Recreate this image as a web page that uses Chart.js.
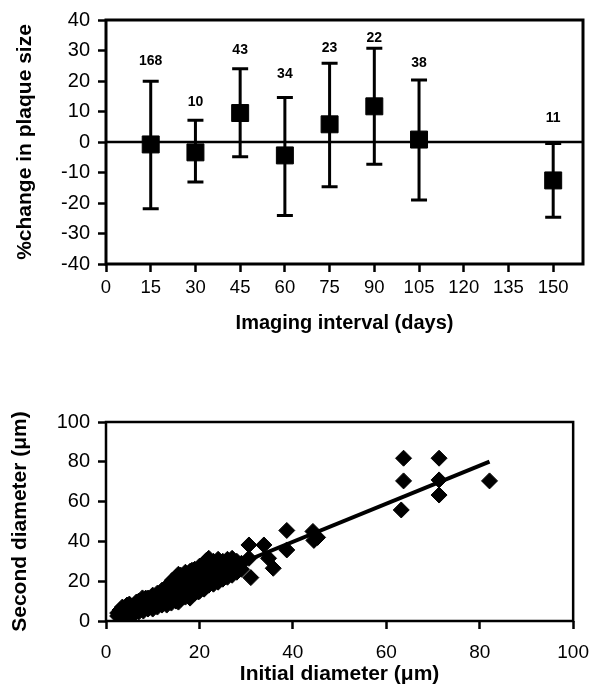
<!DOCTYPE html>
<html>
<head>
<meta charset="utf-8">
<script src="https://cdn.jsdelivr.net/npm/chart.js@4.4.0/dist/chart.umd.min.js"></script>
<style>
  html, body { margin: 0; padding: 0; background: #fff; }
  canvas { display: block; }
</style>
</head>
<body>
<canvas id="intervalChart" width="601" height="345"></canvas>
<canvas id="diameterChart" width="601" height="353"></canvas>
<script>
// top panel: % change in plaque size by imaging interval
const days = [15, 30, 45, 60, 75, 90, 105, 150];
const meanChange = [-0.8, -3.4, 9.5, -4.4, 5.8, 11.7, 0.8, -12.6];
const upperLimit = [19.9, 7.1, 24.0, 14.6, 25.8, 30.7, 20.3, -0.5];
const lowerLimit = [-21.9, -13.1, -4.8, -24.1, -14.7, -7.3, -19.0, -24.7];
const counts = ['168', '10', '43', '34', '23', '22', '38', '11'];
const countLabelY = [26.4, 13.0, 30.0, 22.2, 30.7, 33.9, 25.9, 7.7];

// bottom panel: initial vs second diameter (µm)
const initialDiameter = [
  2.5, 2.5, 3, 3, 3.5, 3.5, 3.5, 4, 4, 4.5, 4.5, 5, 5, 5, 5.5, 5.5,
  6, 6, 6, 6.5, 6.5, 7, 7, 7, 7.5, 7.5, 8, 8, 8, 8.5, 8.5, 8.5,
  9, 9, 9, 9.5, 9.5, 10, 10, 10, 10, 10.5, 10.5, 11, 11, 11, 11, 11.5, 11.5, 11.5,
  12, 12, 12, 12, 12.5, 12.5, 12.5, 13, 13, 13, 13, 13.5, 13.5, 13.5, 13.5,
  14, 14, 14, 14, 14.5, 14.5, 14.5, 14.5, 15, 15, 15, 15, 15, 15.5, 15.5, 15.5, 15.5,
  16, 16, 16, 16, 16, 16.5, 16.5, 16.5, 16.5, 17, 17, 17, 17, 17, 17.5, 17.5, 17.5, 17.5,
  18, 18, 18, 18, 18, 18.5, 18.5, 18.5, 18.5, 19, 19, 19, 19, 19, 19.5, 19.5, 19.5, 19.5,
  20, 20, 20, 20, 20, 20.5, 20.5, 20.5, 20.5, 21, 21, 21, 21, 21, 21.5, 21.5, 21.5, 21.5,
  22, 22, 22, 22, 22, 23, 23, 23, 23, 23, 24, 24, 24, 24, 24, 25, 25, 25, 25,
  26, 26, 26, 26, 27, 27, 27, 27, 28, 28, 28, 29, 29,
  7.8, 11, 14.2, 18.4, 13, 15.5, 18, 19.8,
  30.6, 33.8, 30.6, 34.8, 35.8, 31, 38.7, 38.7, 44.3, 45.3, 44.5,
  63.7, 71.3, 63.7, 71.3, 71.3, 63.2, 82.1
];
const secondDiameter = [
  2.5, 4, 3, 5.5, 2, 4.5, 7, 3.5, 6, 4, 8, 3, 5.5, 8.5, 4.5, 7,
  5, 8, 3.5, 6, 9.5, 4.5, 7.5, 10, 6, 9, 5, 8, 10.5, 7, 10, 11.5,
  6, 9, 11.5, 7.5, 10.5, 6, 8.5, 11, 13, 9.5, 12, 7, 10, 12.5, 14, 8.5, 11.5, 14,
  8, 10.5, 13, 15.5, 9.5, 12, 15, 9, 11.5, 14, 17, 10, 13, 16, 18.5,
  9, 12, 15, 19, 11, 14, 17, 20, 10, 13, 16, 19, 22, 12, 15, 18, 23.5,
  11, 14, 17, 20, 23, 12.5, 15.5, 18.5, 21.5, 12, 15, 18, 21, 24.5, 13.5, 16.5, 19.5, 23,
  13, 16, 19, 22, 25, 14.5, 17.5, 20.5, 24, 14, 17, 20, 23, 26, 15.5, 18.5, 21.5, 25,
  15, 18, 21, 24, 27.5, 16.5, 19.5, 22.5, 26, 16, 19, 22, 25, 29, 17.5, 20.5, 24, 30.5,
  18, 21, 24.5, 27, 31.5, 18.5, 22, 25, 28, 30, 19.5, 23, 26, 29, 31, 21, 24, 27, 30,
  22, 25, 28, 31, 23, 26, 29, 31.5, 24.5, 27.5, 30, 26, 29,
  11.6, 13.2, 20.5, 25.5, 8, 9.5, 11.5, 14.6,
  38.2, 38.2, 31.5, 31.5, 26.5, 21.8, 45.5, 35.7, 45, 42, 40.5,
  81.8, 81.8, 70.4, 70.9, 63.3, 55.8, 70.4
];
const fitX = [2.5, 82.1];
const fitY = [3.9, 80.1];

const FONT = '"Liberation Sans", Arial, Helvetica, sans-serif';

const axisGrid = {
  drawOnChartArea: false,
  drawTicks: true,
  tickLength: 8,
  tickWidth: 2.5,
  tickColor: '#000'
};

// chart area frame drawn on top of everything
const frame = {
  id: 'frame',
  afterDraw(chart) {
    const { ctx, chartArea: a } = chart;
    ctx.save();
    ctx.strokeStyle = '#000';
    ctx.lineWidth = chart.options.frameWidth || 3;
    ctx.strokeRect(a.left, a.top, a.right - a.left, a.bottom - a.top);
    ctx.restore();
  }
};

const errorBars = {
  id: 'errorBars',
  beforeDatasetsDraw(chart) {
    const { ctx, scales: { x, y }, chartArea } = chart;
    ctx.save();
    ctx.strokeStyle = '#000';
    // zero line
    ctx.lineWidth = 2.5;
    ctx.beginPath();
    const y0 = y.getPixelForValue(0);
    ctx.moveTo(chartArea.left, y0);
    ctx.lineTo(chartArea.right, y0);
    ctx.stroke();

    ctx.lineWidth = 3;
    ctx.beginPath();
    days.forEach((d, i) => {
      const px = x.getPixelForValue(d);
      const top = y.getPixelForValue(upperLimit[i]);
      const bottom = y.getPixelForValue(lowerLimit[i]);
      ctx.moveTo(px, top);
      ctx.lineTo(px, bottom);
      ctx.moveTo(px - 8, top);
      ctx.lineTo(px + 8, top);
      ctx.moveTo(px - 8, bottom);
      ctx.lineTo(px + 8, bottom);
    });
    ctx.stroke();
    ctx.restore();
  }
};

const countLabels = {
  id: 'countLabels',
  afterDatasetsDraw(chart) {
    const { ctx, scales: { x, y } } = chart;
    ctx.save();
    ctx.font = 'bold 14px ' + FONT;
    ctx.fillStyle = '#000';
    ctx.textAlign = 'center';
    ctx.textBaseline = 'middle';
    days.forEach((d, i) => {
      ctx.fillText(counts[i], x.getPixelForValue(d), y.getPixelForValue(countLabelY[i]));
    });
    ctx.restore();
  }
};

new Chart(document.getElementById('intervalChart'), {
  type: 'scatter',
  data: {
    datasets: [{
      label: '% change',
      data: days.map((d, i) => ({ x: d, y: meanChange[i] })),
      pointStyle: 'rect',
      pointRadius: 12,
      backgroundColor: '#000',
      borderColor: '#000',
      borderWidth: 1
    }]
  },
  options: {
    responsive: false,
    animation: false,
    devicePixelRatio: 1,
    frameWidth: 3,
    layout: { padding: { top: 17, right: 18, left: 0, bottom: 0 } },
    plugins: { legend: { display: false }, tooltip: { enabled: false } },
    scales: {
      x: {
        type: 'linear',
        min: 0,
        max: 160,
        afterFit: s => { s.height = 81; },
        border: { display: false },
        grid: axisGrid,
        ticks: { stepSize: 15, includeBounds: false, padding: 5, color: '#000', font: { family: FONT, size: 18.5 } },
        title: { display: true, text: 'Imaging interval (days)', color: '#000', padding: { top: 0, bottom: 10 }, font: { family: FONT, size: 20, weight: 'bold' } }
      },
      y: {
        min: -40,
        max: 40,
        afterFit: s => { s.width = 106; },
        border: { display: false },
        grid: axisGrid,
        ticks: { stepSize: 10, padding: 8, color: '#000', font: { family: FONT, size: 20 } },
        title: { display: true, text: '%change in plaque size', color: '#000', padding: { top: 13, bottom: 0 }, font: { family: FONT, size: 21, weight: 'bold' } }
      }
    }
  },
  plugins: [errorBars, countLabels, frame]
});

new Chart(document.getElementById('diameterChart'), {
  type: 'scatter',
  data: {
    datasets: [{
      type: 'line',
      label: 'fit',
      data: fitX.map((v, i) => ({ x: v, y: fitY[i] })),
      borderColor: '#000',
      borderWidth: 4,
      pointRadius: 0,
      fill: false
    }, {
      label: 'diameter',
      data: initialDiameter.map((v, i) => ({ x: v, y: secondDiameter[i] })),
      pointStyle: 'rectRot',
      pointRadius: 8,
      backgroundColor: '#000',
      borderColor: '#000',
      borderWidth: 1
    }]
  },
  options: {
    responsive: false,
    animation: false,
    devicePixelRatio: 1,
    frameWidth: 2.5,
    layout: { padding: { top: 77, right: 19, left: 0, bottom: 0 } },
    plugins: { legend: { display: false }, tooltip: { enabled: false } },
    scales: {
      x: {
        type: 'linear',
        min: 0,
        max: 100,
        afterFit: s => { s.height = 77; },
        border: { display: false },
        grid: axisGrid,
        ticks: { stepSize: 20, padding: 12, color: '#000', font: { family: FONT, size: 19 } },
        title: { display: true, text: 'Initial diameter (\u03bcm)', color: '#000', padding: { top: 0, bottom: 11 }, font: { family: FONT, size: 21, weight: 'bold' } }
      },
      y: {
        min: 0,
        max: 100,
        afterFit: s => { s.width = 106; },
        border: { display: false },
        grid: axisGrid,
        ticks: { stepSize: 20, padding: 8, color: '#000', font: { family: FONT, size: 20 } },
        title: { display: true, text: 'Second diameter (\u03bcm)', color: '#000', padding: { top: 8, bottom: 0 }, font: { family: FONT, size: 21, weight: 'bold' } }
      }
    }
  },
  plugins: [frame]
});
</script>
</body>
</html>
